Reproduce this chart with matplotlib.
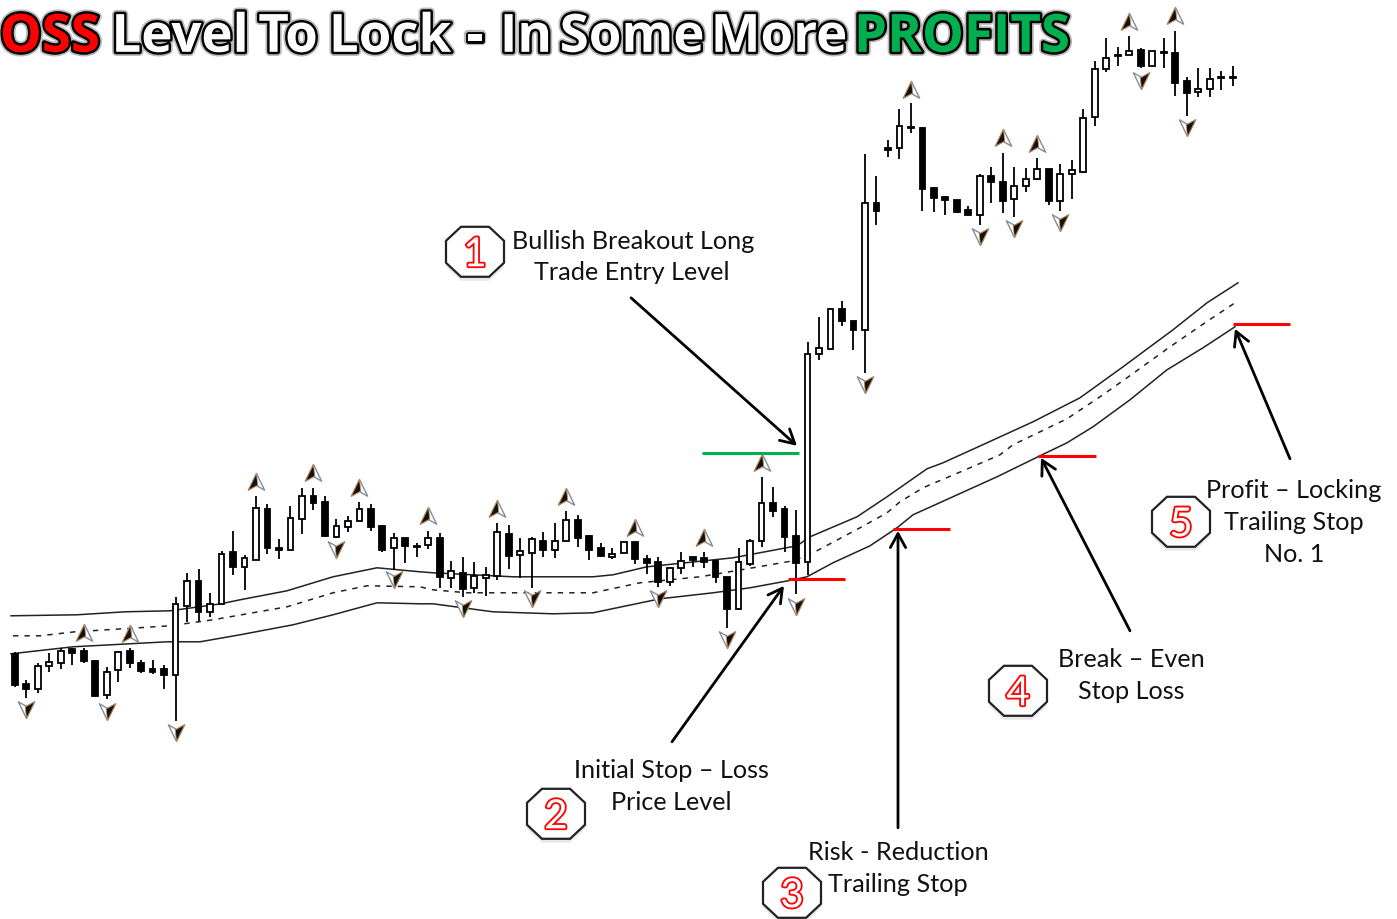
import numpy as np
import matplotlib
matplotlib.use("Agg")
import matplotlib.pyplot as plt
import matplotlib.patheffects as pe
from matplotlib.path import Path
from matplotlib.patches import Polygon

body_top = [654,684,666,662,651,649,651,661,672,652,651,663,669,669,604,581,581,604,554,552,558,508,509,548,518,496,496,502,526,521,509,509,526,538,538,
            546,538,538,571,573,576,575,532,534,551,539,541,541,520,520,536,548,554,542,542,559,562,568,561,557,558,561,577,562,541,503,503,509,536,
            354,348,309,309,321,203,203,148,126,127,128,188,197,200,210,176,176,182,186,179,169,169,174,170,118,69,58,55,51,50,51,52,53,81,89,79,77,77]
body_bot = [685,689,689,666,663,653,661,696,695,670,663,671,672,675,675,606,612,612,604,567,567,560,548,550,550,519,503,536,537,527,521,527,550,548,546,
            547,545,577,578,589,588,578,576,556,555,553,550,550,541,538,550,556,557,553,559,563,582,582,568,560,562,577,609,609,564,541,511,537,563,
            562,354,349,321,330,330,211,150,148,128,189,198,200,212,215,215,182,201,199,186,179,201,201,174,172,117,69,56,55,66,66,53,83,93,92,89,78,78]
wick_top = [652,680,663,653,648,648,648,660,667,651,648,660,660,665,597,573,569,593,551,531,555,496,504,539,506,488,488,496,519,516,502,504,525,533,538,
            543,531,533,561,557,562,567,523,525,538,537,532,523,511,515,535,543,548,542,542,555,557,567,552,557,552,560,577,548,539,477,487,506,510,
            342,317,308,301,321,154,176,140,109,103,127,187,196,200,206,174,167,153,167,168,158,169,164,160,109,61,38,47,36,48,51,38,31,77,68,68,71,66]
wick_bot = [687,698,693,672,669,665,663,697,699,682,668,673,674,689,721,622,621,617,604,575,590,560,554,559,550,534,510,537,538,532,521,531,552,570,563,
            557,549,588,588,597,593,596,580,569,578,588,557,558,541,547,560,557,559,553,564,574,587,586,574,567,568,583,628,610,566,547,517,552,594,
            575,360,350,326,350,373,225,157,159,133,211,212,215,213,215,225,203,213,217,192,180,205,211,199,173,126,72,66,55,68,66,68,96,116,97,97,90,86]
is_up = [0,0,1,1,1,0,0,0,1,1,0,0,0,0,1,1,0,1,1,0,1,1,0,0,1,1,0,0,1,1,1,0,0,1,0,
         1,1,0,1,0,1,1,1,0,1,1,0,1,1,0,0,0,1,1,0,0,0,1,1,0,0,0,0,1,1,1,0,0,0,
         1,1,1,0,0,1,0,0,1,0,0,0,0,0,0,1,0,0,1,1,1,0,1,1,1,1,1,0,1,0,1,0,0,0,1,1,1,0]

# fractal arrows (candle index, y)
frac_up_i = [6,10,21,26,30,36,42,48,54,60,65,78,86,89,97,101]
frac_up_y = [633,634,482,473,488,516,509,497,528,538,463,90,138,144,22,16]
frac_dn_i = [1,8,14,28,33,39,45,56,62,68,74,84,87,91,98,102]
frac_dn_y = [709,711,732,549,579,608,598,598,639,606,384,236,228,222,80,127]

# the three trailing stop bands
upper_x = [11,77,125,170,221,240,287,333,377,420,433,513,593,613,647,733,797,810,857,887,927,943,987,1033,1080,1123,1173,1207,1238]
upper_y = [616,615,612,611,604,600,591,577,568,572,573,577,577,575,567,558,546,537,517,497,469,463,443,422,398,367,330,303,283]
mid_x = [13,40,75,170,213,287,333,367,420,433,467,517,593,640,700,747,793,815,860,887,900,923,963,1000,1013,1067,1100,1127,1170,1205,1238]
mid_y = [636,636,632,626,620,607,593,586,587,590,593,593,593,583,577,569,561,552,528,513,502,488,471,455,445,419,397,378,347,323,301]
lower_x = [11,73,167,200,240,293,333,377,420,433,493,553,593,660,713,750,788,807,833,870,897,913,997,1040,1067,1093,1130,1167,1203,1235]
lower_y = [654,647,642,642,635,625,615,603,604,604,612,614,613,599,593,588,581,577,563,546,528,515,477,456,443,427,400,370,348,327]

# levels and notes
red_x0 = [788,893,1038,1233]
red_x1 = [845,950,1096,1290]
red_y = [579,529,456,324]
note_lines = ["Bullish Breakout Long","Trade Entry Level","Initial Stop \u2013 Loss","Price Level","Risk - Reduction","Trailing Stop",
              "Break \u2013 Even","Stop Loss","Profit \u2013 Locking","Trailing Stop","No. 1"]
note_x = [633,632,671,671,898,898,1131,1131,1294,1294,1294]
note_y = [240,271,769,801,851,883,658,690,489,521,553]
badge_num = ["1","2","3","4","5"]
badge_x = [475,556,792,1018,1181]
badge_y = [252,814,893,691,522]
arrow_from = [(631,298),(672,742),(898,828),(1130,631),(1290,459)]
arrow_to = [(797,446),(784,586),(898,531),(1041,458),(1235,329)]

title_words = ["OSS","Level","To","Lock","-","In","Some","More","PROFITS"]
title_x = [50,180,288,390,475,526,632,779,962]
title_col = ["#ff0000","white","white","white","white","white","white","white","#00b050"]

fig = plt.figure(figsize=(13.97,9.2),dpi=100)
ax = fig.add_axes([0,0,1,1])
ax.set_xlim(0,1397)
ax.set_ylim(919.2,-0.8)
ax.axis("off")

x0 = 14.7
step = 11.49
candle_x = x0 + step*np.arange(len(body_top))
top = np.array(body_top)
bot = np.array(body_bot)

ax.plot(upper_x,upper_y,color="#222222",lw=1.1,zorder=2)
ax.plot(lower_x,lower_y,color="#222222",lw=1.1,zorder=2)
ax.plot(mid_x,mid_y,color="#222222",lw=1.1,ls=(0,(3.5,4)),zorder=2)

ax.vlines(candle_x,wick_top,wick_bot,color="black",lw=1.3,zorder=3)
colors = ["white" if u else "black" for u in is_up]
ax.bar(candle_x,bot-top,bottom=top,width=5.8,color=colors,edgecolor="black",lw=1.3,zorder=4)

# fractals, dark half over a pale outline
up_full = Path([(0,1),(0.9,-0.85),(0,-0.35),(-0.9,-0.85),(0,1)],closed=True)
up_dark = Path([(0,1),(0.15,-0.4),(0,-0.35),(-0.9,-0.85),(0,1)],closed=True)
dn_full = Path([(0,-1),(0.9,0.85),(0,0.35),(-0.9,0.85),(0,-1)],closed=True)
dn_dark = Path([(0,-1),(0.9,0.85),(0,0.35),(-0.15,0.4),(0,-1)],closed=True)
up_x = x0 + step*np.array(frac_up_i)
dn_x = x0 + step*np.array(frac_dn_i)
ax.scatter(up_x,frac_up_y,marker=up_full,s=170,facecolor="white",edgecolor="#7f8fa0",lw=1,zorder=5)
ax.scatter(up_x,frac_up_y,marker=up_dark,s=170,facecolor="#111111",edgecolor="#c98a4a",lw=0.6,zorder=6)
ax.scatter(dn_x,frac_dn_y,marker=dn_full,s=170,facecolor="white",edgecolor="#7f8fa0",lw=1,zorder=5)
ax.scatter(dn_x,frac_dn_y,marker=dn_dark,s=170,facecolor="#111111",edgecolor="#c98a4a",lw=0.6,zorder=6)

ax.hlines(453,702,799,color="#00b050",lw=2.2,zorder=7)
ax.hlines(red_y,red_x0,red_x1,color="#ff0000",lw=2.2,zorder=7)

for a,b in zip(arrow_from,arrow_to):
    ax.annotate("",xy=b,xytext=a,zorder=8,
                arrowprops=dict(arrowstyle="->,head_length=1.0,head_width=0.55",color="black",lw=2,shrinkA=0,shrinkB=0))

for s,x,y in zip(note_lines,note_x,note_y):
    ax.text(x,y+1,s,ha="center",va="center",fontsize=18.2,family="Lato",color="#111111",zorder=9)

# octagon badges
octagon = np.array([(-29,-11),(-14,-25),(14,-25),(29,-11),(29,11),(14,25),(-14,25),(-29,11)])
for s,x,y in zip(badge_num,badge_x,badge_y):
    ax.add_patch(Polygon(octagon+[x,y+4],closed=True,fc="#d8d8d8",ec="none",alpha=0.6,zorder=9))
    ax.add_patch(Polygon(octagon+[x,y],closed=True,fc="white",ec="#222222",lw=1.6,zorder=10))
    ax.text(x,y+3,s,ha="center",va="center",fontsize=29,family="Lato",color="white",zorder=11,
            path_effects=[pe.withStroke(linewidth=2.6,foreground="#ff0000")])

# title words
for s,x,c in zip(title_words,title_x,title_col):
    ax.text(x,38,s,ha="center",va="center",fontsize=38,family="Open Sans",stretch="condensed",weight="bold",color=c,zorder=12,
            clip_on=True,path_effects=[pe.withStroke(linewidth=6,foreground="#777777",alpha=0.5),
                          pe.Stroke(linewidth=3.5,foreground="black"),pe.Normal()])

fig.savefig("out.png",dpi=100,facecolor="white")
